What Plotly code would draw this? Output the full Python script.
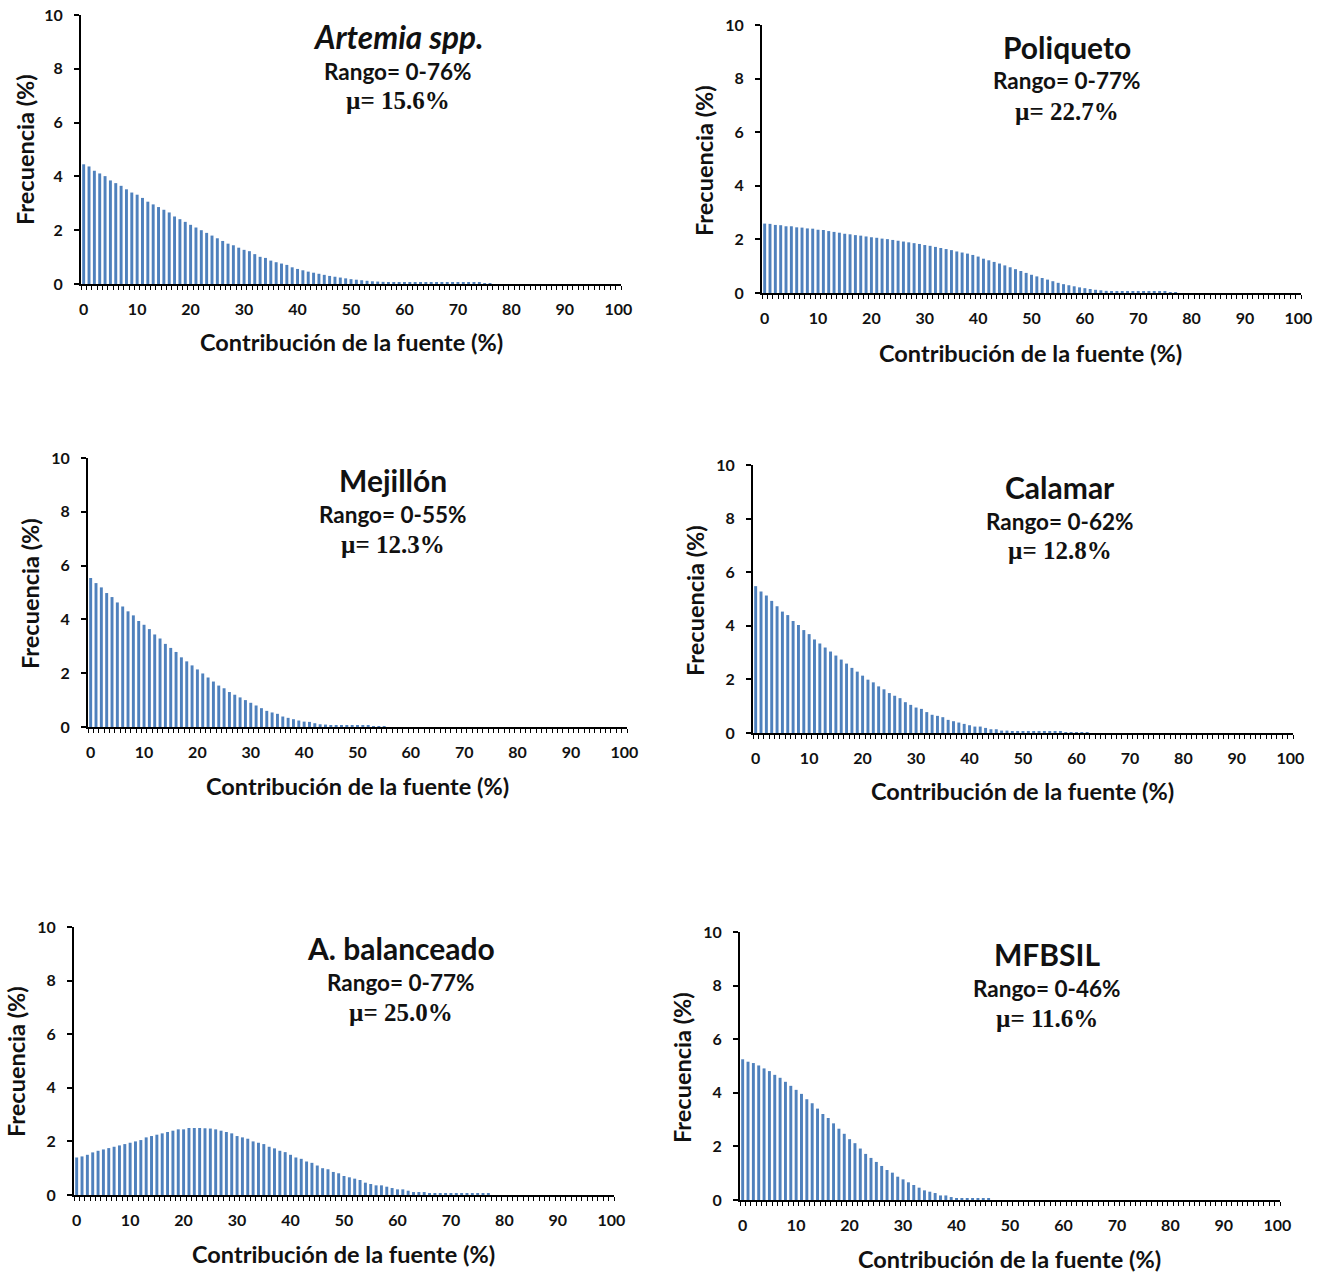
import plotly.graph_objects as go

W, H = 1329, 1272

# ---------------- data (frequency %, one bar per 1% contribution step) ----------------
contribucion = list(range(101))
x_tick_vals = [0, 10, 20, 30, 40, 50, 60, 70, 80, 90, 100]
x_tick_text = ["0", "10", "20", "30", "40", "50", "60", "70", "80", "90", "100"]
y_tick_vals = [0, 2, 4, 6, 8, 10]
y_tick_text = ["0", "2", "4", "6", "8", "10"]

artemia = [4.45, 4.37, 4.21, 4.11, 4.01, 3.85, 3.75, 3.65, 3.52, 3.40,
           3.32, 3.20, 3.06, 2.96, 2.86, 2.76, 2.66, 2.51, 2.41, 2.31,
           2.20, 2.10, 2.00, 1.90, 1.80, 1.70, 1.60, 1.50, 1.44, 1.35,
           1.27, 1.22, 1.11, 1.01, 0.97, 0.87, 0.81, 0.76, 0.71, 0.62,
           0.56, 0.51, 0.46, 0.42, 0.38, 0.34, 0.30, 0.27, 0.24, 0.21,
           0.18, 0.16, 0.14, 0.12, 0.10, 0.09, 0.08, 0.07, 0.06, 0.05,
           0.05, 0.05, 0.04, 0.04, 0.04, 0.04, 0.04, 0.04, 0.04, 0.04,
           0.04, 0.04, 0.04, 0.04, 0.04, 0.03, 0.03]

poliqueto = [2.59, 2.58, 2.54, 2.53, 2.49, 2.49, 2.45, 2.44, 2.41, 2.40,
             2.36, 2.35, 2.31, 2.28, 2.25, 2.21, 2.19, 2.16, 2.14, 2.11,
             2.08, 2.06, 2.03, 2.01, 1.98, 1.95, 1.92, 1.89, 1.86, 1.83,
             1.79, 1.76, 1.72, 1.68, 1.64, 1.60, 1.55, 1.51, 1.47, 1.42,
             1.36, 1.28, 1.22, 1.16, 1.10, 1.03, 0.96, 0.89, 0.82, 0.75,
             0.68, 0.62, 0.56, 0.50, 0.44, 0.38, 0.33, 0.29, 0.25, 0.21,
             0.18, 0.15, 0.12, 0.10, 0.08, 0.06, 0.05, 0.04, 0.04, 0.04,
             0.04, 0.04, 0.04, 0.04, 0.04, 0.04, 0.03, 0.03]

mejillon = [5.54, 5.35, 5.19, 4.98, 4.83, 4.63, 4.48, 4.30, 4.15, 3.94,
            3.80, 3.64, 3.44, 3.29, 3.09, 2.94, 2.79, 2.59, 2.44, 2.29,
            2.14, 1.99, 1.84, 1.69, 1.54, 1.44, 1.30, 1.20, 1.10, 1.00,
            0.90, 0.80, 0.70, 0.60, 0.54, 0.49, 0.39, 0.34, 0.29, 0.24,
            0.20, 0.19, 0.14, 0.10, 0.09, 0.06, 0.05, 0.04, 0.04, 0.04,
            0.04, 0.04, 0.04, 0.03, 0.03, 0.03]

calamar = [5.48, 5.28, 5.13, 4.93, 4.73, 4.53, 4.40, 4.18, 4.03, 3.84,
           3.69, 3.49, 3.34, 3.19, 3.04, 2.89, 2.74, 2.59, 2.43, 2.29,
           2.14, 1.99, 1.89, 1.74, 1.63, 1.49, 1.39, 1.30, 1.15, 1.05,
           0.95, 0.90, 0.78, 0.68, 0.64, 0.59, 0.49, 0.44, 0.39, 0.34,
           0.29, 0.24, 0.24, 0.19, 0.14, 0.14, 0.09, 0.09, 0.06, 0.05,
           0.05, 0.04, 0.04, 0.04, 0.04, 0.04, 0.04, 0.04, 0.03, 0.03,
           0.03, 0.03, 0.03]

balanceado = [1.40, 1.44, 1.50, 1.59, 1.65, 1.70, 1.75, 1.80, 1.85, 1.90,
              1.95, 2.00, 2.05, 2.15, 2.20, 2.25, 2.30, 2.35, 2.40, 2.45,
              2.45, 2.50, 2.50, 2.50, 2.49, 2.48, 2.45, 2.40, 2.35, 2.30,
              2.20, 2.15, 2.10, 2.00, 1.95, 1.90, 1.80, 1.74, 1.65, 1.60,
              1.50, 1.40, 1.35, 1.25, 1.20, 1.10, 1.00, 0.96, 0.86, 0.81,
              0.71, 0.66, 0.61, 0.56, 0.46, 0.41, 0.36, 0.36, 0.31, 0.26,
              0.21, 0.21, 0.16, 0.11, 0.11, 0.11, 0.06, 0.05, 0.05, 0.05,
              0.05, 0.05, 0.05, 0.05, 0.05, 0.05, 0.05, 0.05]

mfbsil = [5.25, 5.16, 5.11, 5.02, 4.91, 4.81, 4.67, 4.56, 4.41, 4.26,
          4.11, 3.96, 3.76, 3.61, 3.41, 3.21, 3.06, 2.86, 2.66, 2.47,
          2.27, 2.12, 1.92, 1.72, 1.57, 1.42, 1.27, 1.12, 1.02, 0.87,
          0.77, 0.66, 0.56, 0.46, 0.36, 0.31, 0.26, 0.17, 0.17, 0.11,
          0.06, 0.06, 0.06, 0.06, 0.06, 0.06, 0.06]

titles = ["<i>Artemia spp.</i>", "Poliqueto", "Mejillón", "Calamar", "A. balanceado", "MFBSIL"]
rangos = ["Rango= 0-76%", "Rango= 0-77%", "Rango= 0-55%", "Rango= 0-62%", "Rango= 0-77%", "Rango= 0-46%"]
medias = ["µ= 15.6%", "µ= 22.7%", "µ= 12.3%", "µ= 12.8%", "µ= 25.0%", "µ= 11.6%"]
series = [artemia, poliqueto, mejillon, calamar, balanceado, mfbsil]

# ---------------- layout geometry (pixels) ----------------
# (x_left, x_right, y_top(=10), y_bottom(=0))
boxes = [(81, 621, 15, 284), (762, 1301, 25, 293),
         (88, 627, 458, 727), (753, 1293, 465, 733),
         (74, 614, 927, 1195), (740, 1280, 932, 1200)]
title_pos = [(398, 37), (1067, 47), (393, 480), (1060, 487), (401, 948), (1047, 954)]
title_size = [31.5, 30, 30, 30, 30, 30]
ylab_pos = [(25, 150), (704, 161), (30, 594), (695, 601), (16, 1062), (682, 1068)]
xlab_pos = [(351, 342), (1030, 353), (357, 786), (1022, 791), (343, 1254), (1009, 1259)]

BAR = "#4F81BD"
SANS = "Lato, 'Open Sans', sans-serif"
SERIF = "'Liberation Serif', 'Times New Roman', serif"

def fx(px):
    return px / W

def fy(py):
    return 1 - py / H

fig = go.Figure()
layout = dict(width=W, height=H, margin=dict(l=0, r=0, t=0, b=0, pad=0, autoexpand=False),
              paper_bgcolor="white", plot_bgcolor="white", showlegend=False,
              bargap=0.45)
annotations = []

for i, vals in enumerate(series):
    n = i + 1
    xa = "x" if n == 1 else f"x{n}"
    ya = "y" if n == 1 else f"y{n}"
    y = list(vals) + [0] * (101 - len(vals))
    fig.add_trace(go.Bar(x=contribucion, y=y, marker=dict(color=BAR, line=dict(width=0)),
                         xaxis=xa, yaxis=ya, hoverinfo="x+y"))
    xl, xr, yt, yb = boxes[i]
    layout[f"xaxis{'' if n == 1 else n}"] = dict(
        domain=[fx(xl), fx(xr)], anchor=ya, range=[-0.5, 100.5], automargin=False,
        tickmode="array", tickvals=x_tick_vals, ticktext=x_tick_text,
        ticks="", showgrid=False, zeroline=False,
        showline=True, linecolor="black", linewidth=2,
        ticklabelstandoff=10,
        tickfont=dict(family=SANS, size=16, color="#111111", weight="bold"),
        minor=dict(ticks="outside", ticklen=4, tickwidth=1, tickcolor="black",
                   tick0=0.5, dtick=1, showgrid=False),
        fixedrange=True)
    layout[f"yaxis{'' if n == 1 else n}"] = dict(
        domain=[fy(yb), fy(yt)], anchor=xa, range=[0, 10], automargin=False,
        tickmode="array", tickvals=y_tick_vals, ticktext=y_tick_text,
        ticks="outside", ticklen=5, tickwidth=2, tickcolor="black",
        showgrid=False, zeroline=False,
        showline=True, linecolor="black", linewidth=2,
        ticklabelstandoff=8,
        tickfont=dict(family=SANS, size=16, color="#111111", weight="bold"),
        fixedrange=True)

    tx, ty = title_pos[i]
    annotations.append(dict(text=f"<b>{titles[i]}</b>", x=fx(tx), y=fy(ty), xref="paper", yref="paper",
                            xanchor="center", yanchor="middle", showarrow=False,
                            font=dict(family=SANS, size=title_size[i], color="#111111")))
    annotations.append(dict(text=f"<b>{rangos[i]}</b>", x=fx(tx), y=fy(ty + 34), xref="paper", yref="paper",
                            xanchor="center", yanchor="middle", showarrow=False,
                            font=dict(family=SANS, size=22.5, color="#111111")))
    annotations.append(dict(text=f"<b>{medias[i]}</b>", x=fx(tx), y=fy(ty + 64), xref="paper", yref="paper",
                            xanchor="center", yanchor="middle", showarrow=False,
                            font=dict(family=SERIF, size=25, color="#111111")))
    lx, ly = ylab_pos[i]
    annotations.append(dict(text="<b>Frecuencia (%)</b>", x=fx(lx), y=fy(ly), xref="paper", yref="paper",
                            xanchor="center", yanchor="middle", showarrow=False, textangle=-90,
                            font=dict(family=SANS, size=23.5, color="#111111")))
    cx, cy = xlab_pos[i]
    annotations.append(dict(text="<b>Contribución de la fuente (%)</b>", x=fx(cx), y=fy(cy), xref="paper", yref="paper",
                            xanchor="center", yanchor="middle", showarrow=False,
                            font=dict(family=SANS, size=23.5, color="#111111")))

layout["annotations"] = annotations
fig.update_layout(**layout)
fig.write_html("out.html")
